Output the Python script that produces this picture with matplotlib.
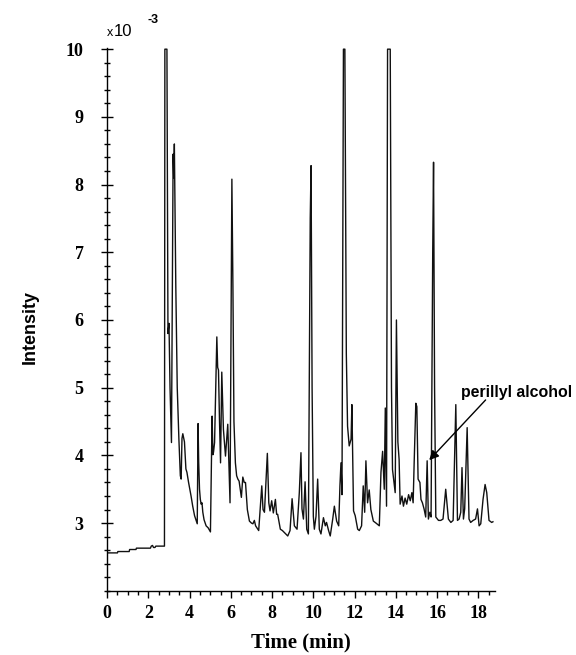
import matplotlib
matplotlib.use("Agg")
import matplotlib.pyplot as plt
from matplotlib.ticker import FixedLocator, MultipleLocator

# chromatogram trace (time in min, intensity x10^-3)
time_min = [0.0, 0.5, 0.52, 1.07, 1.09, 1.4, 1.42, 2.1, 2.14, 2.2, 2.25, 2.32, 2.36, 2.78,
            2.80, 2.90, 2.95, 3.0, 3.05, 3.12, 3.20, 3.23, 3.26, 3.33, 3.40, 3.48, 3.55, 3.59,
            3.63, 3.67, 3.75, 3.82, 3.87, 3.95, 4.07, 4.15, 4.24, 4.37, 4.41, 4.44, 4.48, 4.52,
            4.56, 4.60, 4.64, 4.70, 4.80, 4.90, 5.01, 5.09, 5.13, 5.16, 5.21, 5.32, 5.36, 5.40,
            5.45, 5.50, 5.56, 5.64, 5.74, 5.85, 5.91, 5.96, 6.05, 6.10, 6.15, 6.22, 6.28, 6.34,
            6.40, 6.51, 6.58, 6.65, 6.71, 6.80, 6.90, 7.0, 7.07, 7.14, 7.20, 7.35, 7.50, 7.56,
            7.63, 7.77, 7.84, 7.90, 7.98, 8.06, 8.16, 8.22, 8.27, 8.40, 8.50, 8.60, 8.76, 8.87,
            8.97, 9.08, 9.21, 9.32, 9.40, 9.45, 9.52, 9.60, 9.68, 9.76, 9.85, 9.89, 9.94, 10.0,
            10.05, 10.13, 10.21, 10.29, 10.37, 10.49, 10.58, 10.64, 10.74, 10.82, 10.94, 11.02,
            11.13, 11.23, 11.29, 11.34, 11.39, 11.46, 11.53, 11.60, 11.66, 11.74, 11.83, 11.87,
            11.95, 12.03, 12.15, 12.23, 12.34, 12.42, 12.49, 12.55, 12.63, 12.71, 12.79, 12.91,
            13.04, 13.2, 13.28, 13.36, 13.44, 13.49, 13.55, 13.60, 13.73, 13.79, 13.84, 13.97,
            14.03, 14.1, 14.16, 14.21, 14.3, 14.37, 14.45, 14.53, 14.62, 14.70, 14.78, 14.84,
            14.89, 14.97, 15.02, 15.08, 15.17, 15.22, 15.29, 15.37, 15.45, 15.52, 15.58, 15.65,
            15.71, 15.79, 15.83, 15.88, 15.94, 16.07, 16.18, 16.29, 16.42, 16.55, 16.67, 16.78,
            16.91, 16.99, 17.07, 17.15, 17.21, 17.28, 17.34, 17.46, 17.55, 17.63, 17.75, 17.87,
            17.96, 18.04, 18.12, 18.23, 18.33, 18.41, 18.52, 18.65, 18.71]
intensity = [2.56, 2.56, 2.58, 2.58, 2.61, 2.61, 2.63, 2.63, 2.66, 2.67, 2.64, 2.64, 2.66, 2.66,
             10.0, 10.0, 5.8, 5.95, 5.0, 4.19, 8.45, 8.1, 8.6, 6.5, 5.0, 4.24, 3.7, 3.65,
             4.25, 4.32, 4.2, 3.8, 3.75, 3.6, 3.40, 3.25, 3.11, 2.99, 4.47, 3.9, 3.5, 3.35,
             3.28, 3.3, 3.16, 3.05, 2.96, 2.93, 2.87, 4.58, 4.01, 4.05, 4.19, 5.75, 5.3, 5.26,
             4.5, 3.89, 5.23, 4.38, 3.99, 4.46, 3.8, 3.30, 8.08, 6.5, 4.5, 3.89, 3.7, 3.65,
             3.62, 3.38, 3.68, 3.6, 3.6, 3.2, 3.03, 3.0, 2.99, 3.04, 2.96, 2.89, 3.55, 3.2,
             3.16, 4.03, 3.3, 3.18, 3.33, 3.15, 3.35, 3.13, 3.13, 2.91, 2.89, 2.86, 2.81, 2.89,
             3.36, 2.96, 2.91, 3.45, 4.04, 3.21, 3.06, 3.61, 2.91, 2.84, 7.5, 8.28, 5.0, 3.1,
             2.91, 3.1, 3.65, 2.91, 2.84, 3.08, 2.96, 3.01, 2.89, 2.81, 3.06, 3.25,
             3.03, 2.96, 3.55, 3.89, 3.42, 10.0, 10.0, 5.5, 4.43, 4.14, 4.24, 4.75,
             3.18, 3.11, 2.91, 2.89, 2.96, 3.55, 3.16, 3.92, 3.3, 3.49, 3.2, 3.03,
             3.0, 2.96, 3.75, 4.06, 3.5, 4.70, 3.25, 10.0, 10.0, 5.0, 3.79, 3.45,
             6.0, 4.2, 3.94, 3.28, 3.4, 3.25, 3.37, 3.28, 3.42, 3.33, 3.45, 3.3,
             3.89, 4.77, 4.72, 3.65, 3.6, 3.35, 3.3, 3.21, 3.09, 3.92, 3.06, 3.16,
             3.09, 7.0, 8.33, 5.0, 3.09, 3.04, 3.04, 3.06, 3.5, 3.06, 3.01, 3.04,
             4.75, 3.04, 3.06, 3.16, 3.82, 3.06, 3.21, 4.41, 3.06, 3.01, 3.04, 3.06,
             3.21, 2.96, 2.99, 3.35, 3.57, 3.45, 3.04, 3.01, 3.02]

y_major = [3, 4, 5, 6, 7, 8, 9, 10]
x_major = [0, 2, 4, 6, 8, 10, 12, 14, 16, 18]

serif = "Liberation Serif"
sans = "Liberation Sans"

fig = plt.figure(figsize=(5.76, 6.55), dpi=100)
ax = fig.add_axes([0.186, 0.098, 0.673, 0.829])

ax.plot(time_min, intensity, color="#111111", lw=1.0)

ax.set_xlim(0, 18.8)
ax.set_ylim(2.0, 10.02)
ax.spines["top"].set_visible(False)
ax.spines["right"].set_visible(False)
ax.spines["left"].set_linewidth(1.0)
ax.spines["bottom"].set_linewidth(1.0)

ax.xaxis.set_major_locator(FixedLocator(x_major))
ax.xaxis.set_minor_locator(MultipleLocator(0.5))
ax.yaxis.set_major_locator(FixedLocator(y_major))
ax.yaxis.set_minor_locator(MultipleLocator(0.2))

ax.tick_params(axis="x", which="major", direction="out", length=5, width=1, pad=5)
ax.tick_params(axis="x", which="minor", direction="out", length=3, width=1)
ax.tick_params(axis="y", which="major", direction="inout", length=8, width=1, pad=13)
ax.tick_params(axis="y", which="minor", direction="inout", length=5, width=1)

for lab in ax.get_xticklabels() + ax.get_yticklabels():
    lab.set_fontfamily(serif)
    lab.set_fontweight("bold")
    lab.set_fontsize(13)

ax.set_xlabel("Time (min)", fontfamily=serif, fontweight="bold", fontsize=15, labelpad=8)
fig.text(30 / 576, 1 - 327 / 655, "Intensity", rotation=90, ha="center", va="center",
         fontfamily=sans, fontweight="bold", fontsize=13)

# scale factor above the y axis
fig.text(107 / 576, 1 - 36 / 655, "x", fontfamily=sans, fontsize=9)
fig.text(114 / 576, 1 - 36 / 655, "10", fontfamily=sans, fontsize=12)
fig.text(147 / 576, 1 - 23 / 655, "-3", fontfamily=sans, fontweight="bold", fontsize=9)

ax.annotate("perillyl alcohol", xy=(15.62, 3.93), xytext=(17.17, 4.93),
            fontfamily=sans, fontweight="bold", fontsize=11.4, va="center", ha="left",
            annotation_clip=False,
            arrowprops=dict(arrowstyle="-|>", color="black", lw=1.0,
                            mutation_scale=14, shrinkA=0, shrinkB=0,
                            patchA=None, relpos=(0.22, 0.0)))

fig.savefig("out.png", dpi=100)
